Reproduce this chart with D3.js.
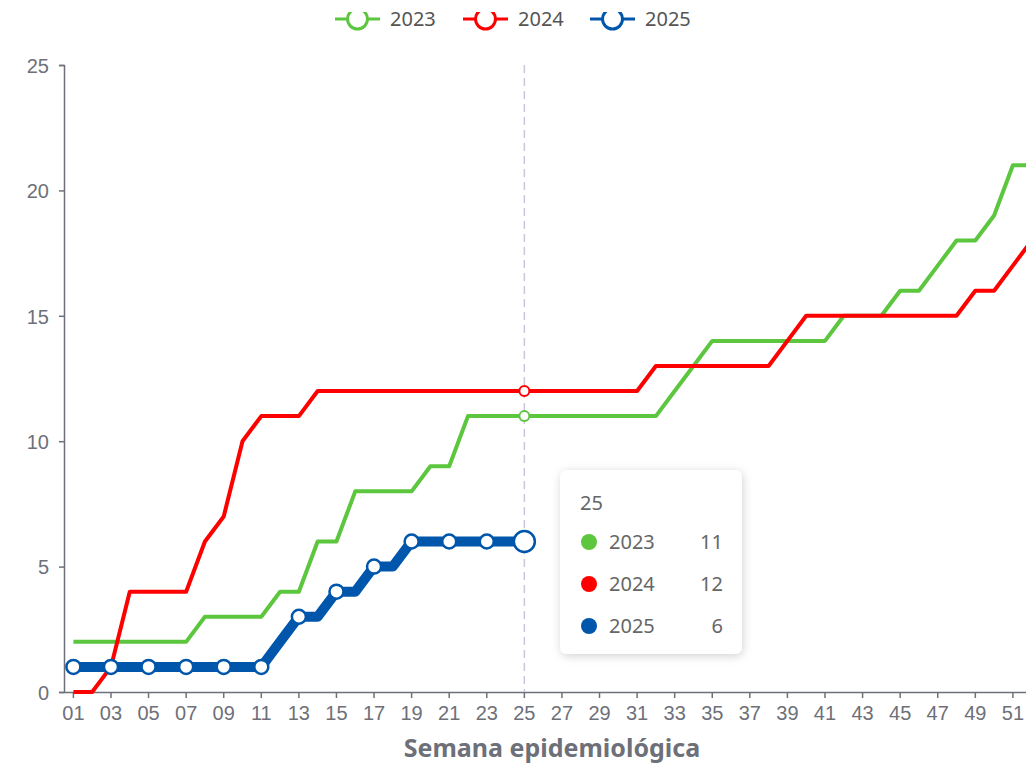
<!DOCTYPE html>
<html>
<head>
<meta charset="utf-8">
<script src="https://cdn.jsdelivr.net/npm/d3@7"></script>
<style>
  body { margin: 0; background: #fff; }
  svg { display: block; font-family: "Noto Sans", "Open Sans", sans-serif; }
</style>
</head>
<body>
<div class="chart"></div>
<script>
// data
var weeks = ["01","02","03","04","05","06","07","08","09","10","11","12","13",
             "14","15","16","17","18","19","20","21","22","23","24","25","26",
             "27","28","29","30","31","32","33","34","35","36","37","38","39",
             "40","41","42","43","44","45","46","47","48","49","50","51","52"];
var years = ["2023", "2024", "2025"];
var colors = ["#5cc63f", "#ff0000", "#0056ab"];
var s2023 = [2,2,2,2,2,2,2,3,3,3,3,4,4,6,6,8,8,8,8,9,9,11,11,11,11,11,11,11,11,11,11,11,
             12,13,14,14,14,14,14,14,14,15,15,15,16,16,17,18,18,19,21,21];
var s2024 = [0,0,1,4,4,4,4,6,7,10,11,11,11,12,12,12,12,12,12,12,12,12,12,12,12,12,12,12,12,12,12,
             13,13,13,13,13,13,13,14,15,15,15,15,15,15,15,15,15,16,16,17,18];
var s2025 = [1,1,1,1,1,1,1,1,1,1,1,2,3,3,4,4,5,5,6,6,6,6,6,6,6];
var yTicks = [0, 5, 10, 15, 20, 25];
var hoverWeek = "25";

var series = [s2023, s2024, s2025];

var W = 1026, H = 764;
var margin = {top: 65, left: 64, bottom: 72};
var axisColor = "#6e7079";

var svg = d3.select(".chart").append("svg")
    .attr("width", W)
    .attr("height", H);

var defs = svg.append("defs");
var shadow = defs.append("filter").attr("id", "shadow")
    .attr("x", "-20%").attr("y", "-20%").attr("width", "140%").attr("height", "140%");
shadow.append("feDropShadow")
    .attr("dx", 1).attr("dy", 2).attr("stdDeviation", 5)
    .attr("flood-color", "#000").attr("flood-opacity", 0.18);
// the top strip of the legend is cut off in the reference
defs.append("clipPath").attr("id", "legendClip")
  .append("rect").attr("x", 0).attr("y", 12).attr("width", W).attr("height", 40);

var x = d3.scaleBand()
    .domain(weeks)
    .range([margin.left, margin.left + 52 * 18.79]);
var y = d3.scaleLinear()
    .domain([0, 25])
    .range([H - margin.bottom, margin.top]);

function cx(w) { return x(w) + x.bandwidth() / 2; }

// y axis
var yAxis = svg.append("g")
    .attr("transform", "translate(" + margin.left + ",0)")
    .call(d3.axisLeft(y).tickValues(yTicks).tickSize(5).tickPadding(10));
yAxis.select(".domain").attr("stroke", axisColor).attr("stroke-width", 1.5);
yAxis.selectAll(".tick line").attr("stroke", axisColor).attr("stroke-width", 1.5);
yAxis.selectAll(".tick text")
    .attr("fill", axisColor)
    .style("font-size", "20px")
    .attr("dy", "0.36em");

// x axis, label every other week
var xAxis = svg.append("g")
    .attr("transform", "translate(0," + y(0) + ")")
    .call(d3.axisBottom(x)
      .tickValues(weeks.filter(function(d, i) { return i % 2 == 0; }))
      .tickSize(6).tickPadding(8).tickSizeOuter(0));
xAxis.select(".domain").attr("stroke", axisColor).attr("stroke-width", 1.5);
xAxis.selectAll(".tick line").attr("stroke", axisColor).attr("stroke-width", 1.5);
xAxis.selectAll(".tick text")
    .attr("fill", axisColor)
    .style("font-size", "20px");

svg.append("text")
    .attr("x", 552)
    .attr("y", 757)
    .attr("text-anchor", "middle")
    .attr("fill", axisColor)
    .style("font-size", "25px")
    .style("font-weight", "bold")
    .text("Semana epidemiológica");

// crosshair at hovered week
svg.append("line")
    .attr("x1", cx(hoverWeek)).attr("x2", cx(hoverWeek))
    .attr("y1", y(25)).attr("y2", y(0))
    .attr("stroke", "#c5c8dc")
    .attr("stroke-width", 1.5)
    .attr("stroke-dasharray", "8,5");

var line = d3.line()
    .x(function(d, i) { return cx(weeks[i]); })
    .y(function(d) { return y(d); });

// 2023 and 2024: thin lines, no symbols
[0, 1].forEach(function(k) {
  svg.append("path")
      .datum(series[k])
      .attr("fill", "none")
      .attr("stroke", colors[k])
      .attr("stroke-width", 4)
      .attr("stroke-linejoin", "round")
      .attr("d", line);
});

// 2025: thick line with symbols on labelled weeks
svg.append("path")
    .datum(s2025)
    .attr("fill", "none")
    .attr("stroke", colors[2])
    .attr("stroke-width", 10)
    .attr("stroke-linejoin", "round")
    .attr("d", line);

var hi = weeks.indexOf(hoverWeek);
svg.selectAll(".dot25")
    .data(s2025.map(function(v, i) { return {v: v, i: i}; })
      .filter(function(d) { return d.i % 2 == 0 && d.i != hi; }))
  .enter().append("circle")
    .attr("class", "dot25")
    .attr("cx", function(d) { return cx(weeks[d.i]); })
    .attr("cy", function(d) { return y(d.v); })
    .attr("r", 7)
    .attr("fill", "#fff")
    .attr("stroke", colors[2])
    .attr("stroke-width", 2.5);

// emphasised points at hovered week
series.forEach(function(s, k) {
  svg.append("circle")
      .attr("cx", cx(hoverWeek))
      .attr("cy", y(s[hi]))
      .attr("r", k == 2 ? 10.5 : 5)
      .attr("fill", "#fff")
      .attr("stroke", colors[k])
      .attr("stroke-width", k == 2 ? 2.5 : 2);
});

// legend
var legend = svg.append("g").attr("clip-path", "url(#legendClip)");
var legX = [335, 463, 590];
years.forEach(function(yr, k) {
  var g = legend.append("g").attr("transform", "translate(" + legX[k] + ",19)");
  g.append("line").attr("x1", 0).attr("x2", 45)
      .attr("stroke", colors[k]).attr("stroke-width", 3);
  g.append("circle").attr("cx", 22.5).attr("r", 10)
      .attr("fill", "#fff").attr("stroke", colors[k]).attr("stroke-width", 3);
  g.append("text").attr("x", 55).attr("dy", "0.36em")
      .attr("fill", "#555")
      .style("font-size", "20px")
      .text(yr);
});

// tooltip
var tip = svg.append("g").attr("transform", "translate(560,470)");
tip.append("rect")
    .attr("width", 182).attr("height", 184)
    .attr("rx", 7)
    .attr("fill", "#fff")
    .attr("filter", "url(#shadow)");
tip.append("text")
    .attr("x", 20).attr("y", 40)
    .attr("fill", "#666")
    .style("font-size", "20px")
    .text(hoverWeek);
years.forEach(function(yr, k) {
  var ry = 72 + k * 42;
  tip.append("circle").attr("cx", 29).attr("cy", ry).attr("r", 8).attr("fill", colors[k]);
  tip.append("text").attr("x", 49).attr("y", ry).attr("dy", "0.36em")
      .attr("fill", "#666").style("font-size", "20px").text(yr);
  tip.append("text").attr("x", 163).attr("y", ry).attr("dy", "0.36em")
      .attr("text-anchor", "end")
      .attr("fill", "#666").style("font-size", "20px").text(series[k][hi]);
});
</script>
</body>
</html>
